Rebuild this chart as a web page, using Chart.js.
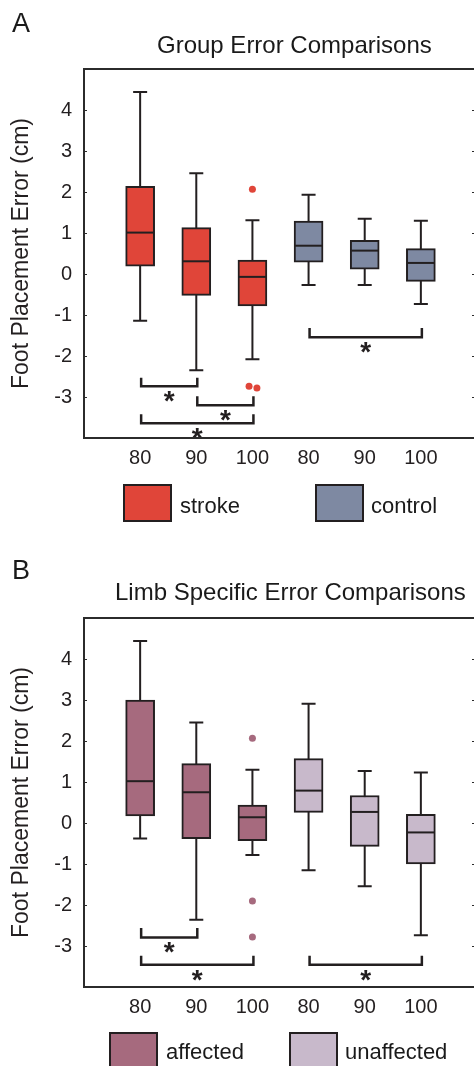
<!DOCTYPE html>
<html>
<head>
<meta charset="utf-8">
<script src="https://cdn.jsdelivr.net/npm/chart.js@4/dist/chart.umd.min.js"></script>
<style>
html, body { margin: 0; padding: 0; background: #fff; width: 474px; height: 1066px; overflow: hidden; }
.panel { position: absolute; left: 0; width: 490px; height: 560px; }
.panel canvas { position: absolute; left: 0; top: 0; }
.letter { position: absolute; left: 12px; font: 27px/28px 'Liberation Sans', Arial, sans-serif; color: #1a1a1a; }
.title { position: absolute; font: 24px/24px 'Liberation Sans', Arial, sans-serif; color: #1a1a1a; white-space: nowrap; }
.lg { position: absolute; font: 22px/22px 'Liberation Sans', Arial, sans-serif; color: #1a1a1a; white-space: nowrap; }
.sw { position: absolute; width: 45px; height: 34px; border: 2px solid #231f20; }
</style>
</head>
<body>

<div class="panel" style="top:0">
  <canvas id="chartA" width="490" height="560"></canvas>
  <div class="letter" style="top:9px">A</div>
  <div class="title" style="left:157px;top:33px">Group Error Comparisons</div>
  <div class="sw" style="left:123px;top:484px;background:#e04539"></div>
  <div class="lg" style="left:180px;top:495px">stroke</div>
  <div class="sw" style="left:315px;top:484px;background:#7e89a2"></div>
  <div class="lg" style="left:371px;top:495px">control</div>
</div>

<div class="panel" style="top:549px">
  <canvas id="chartB" width="490" height="560"></canvas>
  <div class="letter" style="top:7px">B</div>
  <div class="title" style="left:115px;top:31px">Limb Specific Error Comparisons</div>
  <div class="sw" style="left:109px;top:483px;background:#a66a7e"></div>
  <div class="lg" style="left:166px;top:492px">affected</div>
  <div class="sw" style="left:289px;top:483px;background:#c8b9cb"></div>
  <div class="lg" style="left:345px;top:492px">unaffected</div>
</div>

<script>
var tickLabels = ['80', '90', '100', '80', '90', '100'];
var yTicks = [4, 3, 2, 1, 0, -1, -2, -3];
var yTitle = 'Foot Placement Error (cm)';

// A - stroke (80, 90, 100)
var strokeMin = [-1.14, -2.35, -2.08];
var strokeQ1 = [0.19, -0.52, -0.78];
var strokeMed = [1.01, 0.31, -0.07];
var strokeQ3 = [2.14, 1.13, 0.34];
var strokeMax = [4.44, 2.46, 1.31];
var strokeOutX = [3, 2.94, 3.08];
var strokeOutY = [2.07, -2.74, -2.78];

// A - control
var controlMin = [-0.27, -0.27, -0.73];
var controlQ1 = [0.29, 0.12, -0.18];
var controlMed = [0.69, 0.57, 0.27];
var controlQ3 = [1.29, 0.82, 0.62];
var controlMax = [1.93, 1.35, 1.30];

// B - affected
var affMin = [-0.38, -2.36, -0.78];
var affQ1 = [0.17, -0.38, -0.43];
var affMed = [1.02, 0.75, 0.14];
var affQ3 = [3.0, 1.45, 0.44];
var affMax = [4.44, 2.45, 1.30];
var affOutX = [3, 3, 3];
var affOutY = [2.07, -1.90, -2.78];

// B - unaffected
var unaffMin = [-1.15, -1.54, -2.74];
var unaffQ1 = [0.26, -0.57, -1.0];
var unaffMed = [0.79, 0.27, -0.23];
var unaffQ3 = [1.57, 0.67, 0.21];
var unaffMax = [2.91, 1.27, 1.23];

// significance brackets: from, to, top, bottom
var bracketsA = [[1, 2, -2.53, -2.74], [2, 3, -2.98, -3.2], [1, 3, -3.42, -3.64], [4, 6, -1.32, -1.54]];
var bracketsB = [[1, 2, -2.56, -2.79], [1, 3, -3.24, -3.46], [4, 6, -3.24, -3.46]];

var ink = '#231f20';
var font = "'Liberation Sans', Arial, sans-serif";

function boxParts(groups, brackets) {
	return {
		id: 'boxParts',
		beforeDatasetsDraw: function(chart) {
			var ctx = chart.ctx, x = chart.scales.x, y = chart.scales.y;
			ctx.save();
			ctx.strokeStyle = ink;
			ctx.lineWidth = 2;
			groups.forEach(function(g) {
				g.pos.forEach(function(p, i) {
					var px = x.getPixelForValue(p);
					var top = y.getPixelForValue(g.max[i]);
					var bot = y.getPixelForValue(g.min[i]);
					ctx.beginPath();
					ctx.moveTo(px, top); ctx.lineTo(px, bot);
					ctx.moveTo(px - 7, top); ctx.lineTo(px + 7, top);
					ctx.moveTo(px - 7, bot); ctx.lineTo(px + 7, bot);
					ctx.stroke();
				});
			});
			ctx.restore();
		},
		afterDatasetsDraw: function(chart) {
			var ctx = chart.ctx, x = chart.scales.x, y = chart.scales.y;
			ctx.save();
			ctx.strokeStyle = ink;
			ctx.lineWidth = 2;
			// medians
			groups.forEach(function(g) {
				g.pos.forEach(function(p, i) {
					var px = x.getPixelForValue(p);
					var py = y.getPixelForValue(g.med[i]);
					ctx.beginPath();
					ctx.moveTo(px - 13.5, py); ctx.lineTo(px + 13.5, py);
					ctx.stroke();
				});
			});
			// brackets and stars
			ctx.fillStyle = ink;
			ctx.font = 'bold 28px ' + font;
			ctx.textAlign = 'center';
			ctx.textBaseline = 'alphabetic';
			ctx.lineWidth = 2.5;
			brackets.forEach(function(b) {
				var x1 = x.getPixelForValue(b[0]) + 1, x2 = x.getPixelForValue(b[1]) + 1;
				var t = y.getPixelForValue(b[2]), btm = y.getPixelForValue(b[3]);
				ctx.beginPath();
				ctx.moveTo(x1, t); ctx.lineTo(x1, btm); ctx.lineTo(x2, btm); ctx.lineTo(x2, t);
				ctx.stroke();
				ctx.fillText('*', (x1 + x2) / 2, btm + 24);
			});
			ctx.restore();
		},
		afterDraw: function(chart) {
			var ctx = chart.ctx, a = chart.chartArea, y = chart.scales.y;
			ctx.save();
			ctx.strokeStyle = '#2b2b2b';
			ctx.lineWidth = 2;
			ctx.strokeRect(a.left, a.top, a.right - a.left, a.bottom - a.top);
			ctx.lineWidth = 1;
			ctx.beginPath();
			yTicks.forEach(function(v) {
				var py = Math.round(y.getPixelForValue(v)) + 0.5;
				ctx.moveTo(a.left, py); ctx.lineTo(a.left + 3, py);
				ctx.moveTo(a.right - 5, py); ctx.lineTo(a.right, py);
			});
			ctx.stroke();
			ctx.restore();
		}
	};
}

function makeChart(id, groups, outX, outY, outColor, brackets) {
	var datasets = groups.map(function(g) {
		return {
			type: 'bar',
			data: g.pos.map(function(p, i) { return { x: p, y: [g.q1[i], g.q3[i]] }; }),
			backgroundColor: g.color,
			borderColor: ink,
			borderWidth: 2,
			borderSkipped: false,
			barThickness: 29,
			grouped: false
		};
	});
	datasets.push({
		type: 'scatter',
		data: outX.map(function(v, i) { return { x: v, y: outY[i] }; }),
		backgroundColor: outColor,
		borderWidth: 0,
		pointRadius: 3.5
	});

	return new Chart(document.getElementById(id), {
		type: 'bar',
		data: { datasets: datasets },
		options: {
			responsive: false,
			animation: false,
			devicePixelRatio: 1,
			layout: { padding: { left: 0, top: 69, right: 13, bottom: 82 } },
			plugins: { legend: { display: false }, tooltip: { enabled: false } },
			scales: {
				x: {
					type: 'linear',
					min: 0,
					max: 7,
					offset: false,
					grid: { display: false, drawTicks: false, offset: false },
					border: { display: false },
					afterBuildTicks: function(s) {
						s.ticks = tickLabels.map(function(t, i) { return { value: i + 1 }; });
					},
					afterFit: function(s) { s.height = 40; },
					ticks: {
						autoSkip: false,
						maxRotation: 0,
						padding: 8,
						color: ink,
						font: { family: font, size: 20 },
						callback: function(v) { return tickLabels[v - 1]; }
					}
				},
				y: {
					type: 'linear',
					min: -4,
					max: 5,
					grid: { display: false, drawTicks: false },
					border: { display: false },
					afterBuildTicks: function(s) {
						s.ticks = yTicks.map(function(v) { return { value: v }; });
					},
					afterFit: function(s) { s.width = 84; },
					ticks: {
						padding: 12,
						color: ink,
						font: { family: font, size: 20 },
						callback: function(v) { return String(v); }
					},
					title: {
						display: true,
						text: yTitle,
						color: ink,
						padding: { top: 8, bottom: 0 },
						font: { family: font, size: 23 }
					}
				}
			}
		},
		plugins: [boxParts(groups, brackets)]
	});
}

makeChart('chartA', [
	{ pos: [1, 2, 3], min: strokeMin, q1: strokeQ1, med: strokeMed, q3: strokeQ3, max: strokeMax, color: '#e04539' },
	{ pos: [4, 5, 6], min: controlMin, q1: controlQ1, med: controlMed, q3: controlQ3, max: controlMax, color: '#7e89a2' }
], strokeOutX, strokeOutY, '#e04539', bracketsA);

makeChart('chartB', [
	{ pos: [1, 2, 3], min: affMin, q1: affQ1, med: affMed, q3: affQ3, max: affMax, color: '#a66a7e' },
	{ pos: [4, 5, 6], min: unaffMin, q1: unaffQ1, med: unaffMed, q3: unaffQ3, max: unaffMax, color: '#c8b9cb' }
], affOutX, affOutY, '#a66a7e', bracketsB);
</script>
</body>
</html>
